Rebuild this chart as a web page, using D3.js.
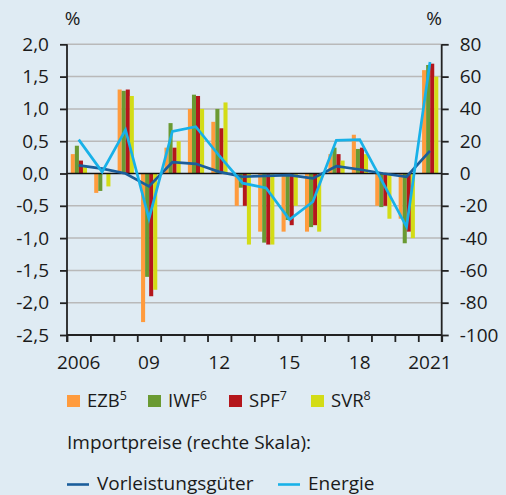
<!DOCTYPE html>
<html>
<head>
<meta charset="utf-8">
<script src="https://cdn.jsdelivr.net/npm/d3@7"></script>
<style>
  html, body { margin: 0; padding: 0; background: #dfebf3; }
  svg { display: block; }
  text { font-family: "Open Sans", "Liberation Sans", Arial, sans-serif; fill: #1a1a1a; }
</style>
</head>
<body>
<svg id="chart" width="506" height="495"></svg>
<script>
// Jahre (Balkengruppen)
const years = d3.range(2006, 2022);
const yearLabels = { 2006: "2006", 2009: "09", 2012: "12", 2015: "15", 2018: "18", 2021: "2021" };

// Prognosen (linke Skala, %)
const ezb = [0.3, -0.3, 1.3, -2.3, 0.4, 1.0, 0.8, -0.5, -0.9, -0.9, -0.9, 0.3, 0.6, -0.5, -0.7, 1.6];
const iwf = [0.43, -0.27, 1.28, -1.6, 0.78, 1.22, 1.0, -0.22, -1.07, -0.72, -0.83, 0.4, 0.38, -0.52, -1.08, 1.68];
const spf = [0.2, 0.0, 1.3, -1.9, 0.4, 1.2, 0.7, -0.5, -1.1, -0.8, -0.8, 0.3, 0.4, -0.5, -0.9, 1.7];
const svr = [0.1, -0.2, 1.2, -1.8, 0.5, 1.0, 1.1, -1.1, -1.1, -0.5, -0.9, 0.2, 0.3, -0.7, -1.0, 1.5];

// Importpreise (rechte Skala, %)
const vorleistung = [5, 3, 0, -8, 7, 6, 1, -2, -1.5, -1, -3, 4.5, 2.5, 0, -2, 14];
const energie = [21, 1, 27, -28, 26, 29, 11, -6, -9, -28.5, -17.5, 20.5, 21, -6, -33, 69];

// Achsenbeschriftungen
const leftTicks = [2.0, 1.5, 1.0, 0.5, 0, -0.5, -1.0, -1.5, -2.0, -2.5];
const rightTicks = [80, 60, 40, 20, 0, -20, -40, -60, -80, -100];

const seriesNames = ["EZB", "IWF", "SPF", "SVR"];
const seriesNotes = ["5", "6", "7", "8"];
const seriesColors = ["#ff9b3d", "#6a9a32", "#b4161b", "#d3dc16"];
const lineNames = ["Vorleistungsgüter", "Energie"];
const lineColors = ["#1b5e9b", "#18b1e8"];

// Deutsches Zahlenformat mit einfachem Bindestrich als Minus
const de = d3.formatLocale({ decimal: ",", thousands: ".", grouping: [3], currency: ["", " €"], minus: "-" });

const FS = 19;
const svg = d3.select("#chart");
const plotL = 67, plotR = 441.7, plotT = 44.3, plotB = 335;

const x = d3.scaleBand().domain(years).range([plotL, plotR]).padding(0);
const inner = d3.scaleBand().domain(d3.range(4)).range([3.8, x.bandwidth() - 3.4]).padding(0);
const yL = d3.scaleLinear().domain([-2.5, 2.0]).range([plotB, plotT]);
const yR = d3.scaleLinear().domain([-100, 80]).range([plotB, plotT]);

// Gitterlinien
svg.append("g").selectAll("line")
  .data(leftTicks.filter(d => d !== 0))
  .join("line")
  .attr("x1", plotL).attr("x2", plotR)
  .attr("y1", d => yL(d)).attr("y2", d => yL(d))
  .attr("stroke", "#b9b9b9").attr("stroke-width", 1.5);

// Balken
const series = [ezb, iwf, spf, svr];
const barG = svg.append("g");
series.forEach((vals, si) => {
  barG.selectAll(null)
    .data(vals.map((v, i) => ({ year: years[i], v })))
    .join("rect")
    .attr("x", d => x(d.year) + inner(si))
    .attr("width", inner.bandwidth())
    .attr("y", d => Math.min(yL(d.v), yL(0)))
    .attr("height", d => Math.abs(yL(d.v) - yL(0)))
    .attr("fill", seriesColors[si]);
});

// Nulllinie
svg.append("line")
  .attr("x1", plotL).attr("x2", plotR)
  .attr("y1", yL(0)).attr("y2", yL(0))
  .attr("stroke", "#111").attr("stroke-width", 1.6);

// Linien (rechte Skala)
const lineGen = d3.line()
  .x((d, i) => x(years[i]) + x.bandwidth() / 2)
  .y(d => yR(d));
[vorleistung, energie].forEach((vals, li) => {
  svg.append("path")
    .datum(vals)
    .attr("d", lineGen)
    .attr("fill", "none")
    .attr("stroke", lineColors[li])
    .attr("stroke-width", 2.7)
    .attr("stroke-linejoin", "miter");
});

// Achsen
const axL = svg.append("g").attr("transform", `translate(${plotL},0)`)
  .call(d3.axisLeft(yL).tickValues(leftTicks).tickSize(7).tickPadding(11).tickFormat(de.format(".1f")));
const axR = svg.append("g").attr("transform", `translate(${plotR},0)`)
  .call(d3.axisRight(yR).tickValues(rightTicks).tickSize(7).tickPadding(11).tickFormat(de.format("d")));
const axB = svg.append("g").attr("transform", `translate(0,${plotB})`)
  .call(d3.axisBottom(d3.scaleLinear().domain([0, 16]).range([plotL, plotR]))
    .tickValues(d3.range(0, 17)).tickSize(7).tickFormat(""));

[axL, axR, axB].forEach(g => {
  g.select(".domain").attr("stroke", "#222").attr("stroke-width", 1.8);
  g.selectAll(".tick line").attr("stroke", "#222").attr("stroke-width", 1.8);
  g.selectAll("text").attr("font-size", FS).attr("fill", "#1a1a1a")
    .attr("font-family", "'Open Sans', 'Liberation Sans', Arial, sans-serif");
});
axL.select(".domain").attr("d", `M0,${plotT}V${plotB + 7}`);
axR.select(".domain").attr("d", `M0,${plotT}V${plotB + 7}`);
axB.select(".domain").attr("d", `M${plotL},0H${plotR}`);

// Jahreslabels
svg.append("g").selectAll("text")
  .data(years.filter(y => yearLabels[y]))
  .join("text")
  .attr("x", d => x(d) + x.bandwidth() / 2)
  .attr("y", 369)
  .attr("text-anchor", "middle")
  .attr("font-size", FS)
  .text(d => yearLabels[d]);

// Einheiten
svg.append("text").attr("x", 72.5).attr("y", 25).attr("text-anchor", "middle").attr("font-size", FS).text("%");
svg.append("text").attr("x", 434).attr("y", 25).attr("text-anchor", "middle").attr("font-size", FS).text("%");

// Legende Balken
const legX = [67, 148, 229, 311];
const leg = svg.append("g");
seriesNames.forEach((n, i) => {
  leg.append("rect").attr("x", legX[i]).attr("y", 395).attr("width", 13).attr("height", 12).attr("fill", seriesColors[i]);
  const t = leg.append("text").attr("x", legX[i] + 20).attr("y", 407).attr("font-size", 18.5);
  t.append("tspan").text(n);
  t.append("tspan").attr("font-size", 12.5).attr("dy", -7).text(seriesNotes[i]);
});

svg.append("text").attr("x", 67).attr("y", 449).attr("font-size", FS).text("Importpreise (rechte Skala):");

// Legende Linien
const lineLegX = [67, 278];
lineNames.forEach((n, i) => {
  svg.append("line").attr("x1", lineLegX[i]).attr("x2", lineLegX[i] + 22)
    .attr("y1", 484.5).attr("y2", 484.5)
    .attr("stroke", lineColors[i]).attr("stroke-width", 2.6);
  svg.append("text").attr("x", lineLegX[i] + 30).attr("y", 490).attr("font-size", FS).text(n);
});
</script>
</body>
</html>
